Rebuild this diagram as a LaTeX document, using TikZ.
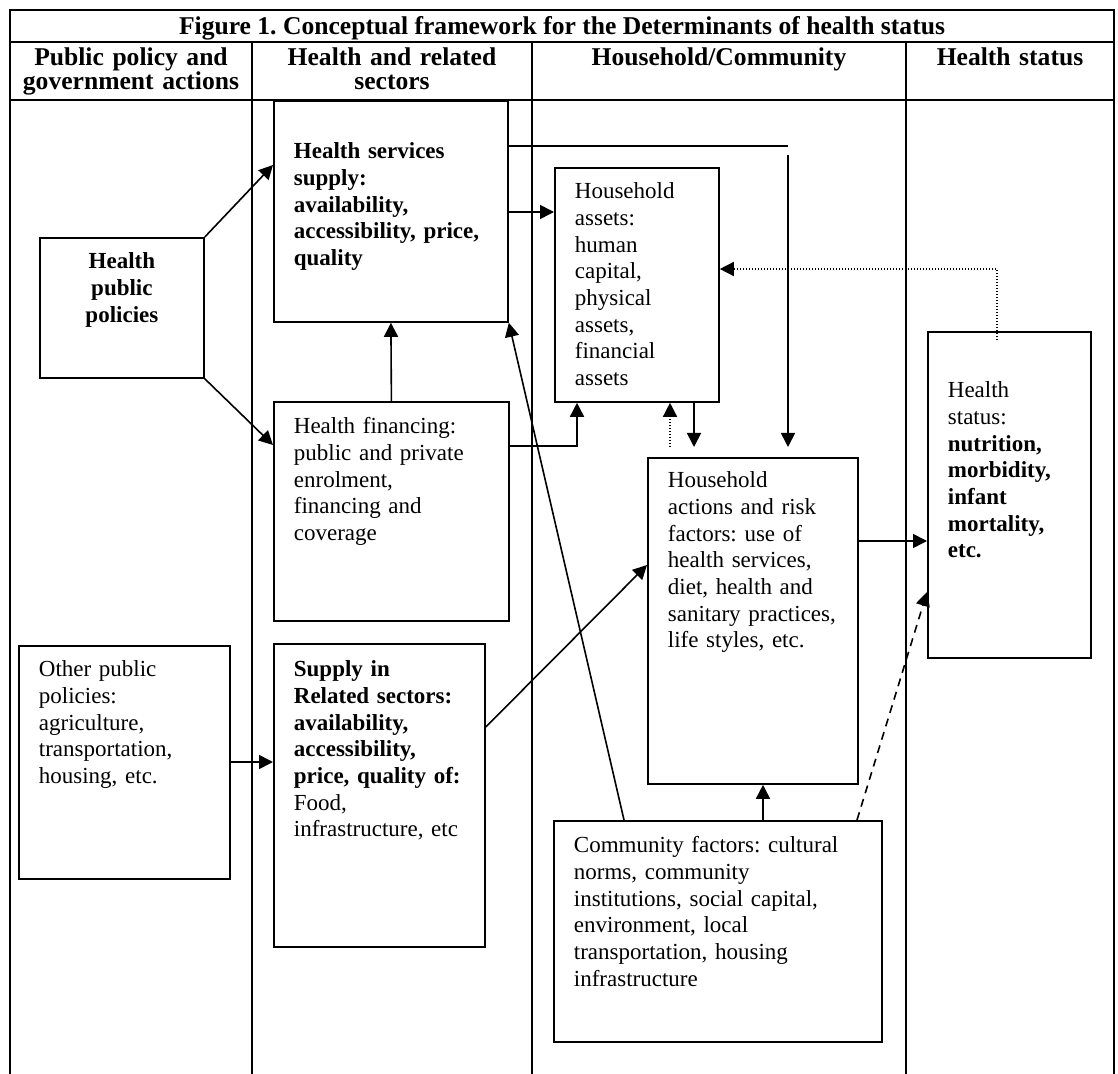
\documentclass[tikz,border=0pt]{standalone}
\usepackage{fontspec}
\setmainfont{Liberation Serif}
\usetikzlibrary{arrows.meta,calc}
\frenchspacing

\newcommand{\bodyfont}{\fontsize{11.5}{13.33}\selectfont}
\newcommand{\headfont}{\fontsize{12.8}{12}\selectfont\bfseries}
\newcommand{\titlefont}{\fontsize{12.8}{14}\selectfont\bfseries}

\begin{document}
\begin{tikzpicture}[x=0.5pt,y=-0.5pt,>={Triangle[length=7pt,width=7pt]},
    frame/.style={line width=1pt},
    cell/.style={draw,line width=0.9pt,anchor=north west,inner sep=0pt,font=\bodyfont},
    box/.style={cell,align=left,execute at begin node={\leftskip=10pt\rightskip=0pt plus 1fil\relax}},
    head/.style={anchor=base,align=center,text width=160pt,font=\headfont,inner sep=0pt},
    link/.style={->,line width=0.8pt},
    dotlink/.style={->,line width=0.7pt,dash pattern=on 0.7pt off 0.8pt},
    dashlink/.style={->,line width=0.8pt,dash pattern=on 4pt off 3pt}]
  \useasboundingbox (0,0) rectangle (1118,1074);

  % table frame
  \draw[frame] (10,1074) -- (10,10) -- (1114,10) -- (1114,1074);
  \draw[frame] (10,42) -- (1114,42);
  \draw[frame] (10,100) -- (1114,100);
  \foreach \cx in {252,532,906}
    \draw[frame] (\cx,42) -- (\cx,1074);

  \node[anchor=base,inner sep=0pt,font=\titlefont] (title) at (562,35)
    {Figure 1. Conceptual framework for the Determinants of health status};
  \node[head] (colA) at (131,66) {Public policy and\\ government actions};
  \node[head] (colB) at (392,66) {Health and related\\ sectors};
  \node[head] (colC) at (719,66) {Household/Community};
  \node[head] (colD) at (1010,66) {Health status};

  % boxes
  \node[cell,align=center,font=\bodyfont\bfseries,text width=82pt,text height=15.5pt,text depth=54.5pt]
    (hp) at (39,237) {Health\\ public\\ policies};
  \node[box,font=\bodyfont\bfseries,text width=117pt,text height=29pt,text depth=81.5pt]
    (hs) at (273,100) {Health services\\ supply:\\ availability,\\ accessibility, price,\\ quality};
  \node[box,text width=117.5pt,text height=16pt,text depth=93.5pt]
    (hf) at (273,401) {Health financing:\\ public and private\\ enrolment,\\ financing and\\ coverage};
  \node[box,text width=105.5pt,text height=15.5pt,text depth=101pt]
    (op) at (18,645) {Other public\\ policies:\\ agriculture,\\ transportation,\\ housing, etc.};
  \node[box,text width=105.5pt,text height=16.5pt,text depth=135pt]
    (srs) at (273,643) {\textbf{Supply in}\\ \textbf{Related sectors:}\\ \textbf{availability,}\\
      \textbf{accessibility,}\\ \textbf{price, quality of:}\\ Food,\\ infrastructure, etc};
  \node[box,text width=82pt,text height=15.5pt,text depth=101.5pt]
    (ha) at (554,167) {Household\\ assets:\\ human\\ capital,\\ physical\\ assets,\\ financial\\ assets};
  \node[box,text width=105pt,text height=15pt,text depth=148pt]
    (ha2) at (647,457) {Household\\ actions and risk\\ factors: use of\\ health services,\\
      diet, health and\\ sanitary practices,\\ life styles, etc.};
  \node[box,text width=164pt,text height=16pt,text depth=94.5pt]
    (cf) at (553,820) {Community factors: cultural\\ norms, community\\ institutions, social capital,\\
      environment, local\\ transportation, housing\\ infrastructure};
  \node[box,text width=81.5pt,text height=33pt,text depth=130pt]
    (hst) at (927,331) {Health\\ status:\\ \textbf{nutrition,}\\ \textbf{morbidity,}\\
      \textbf{infant}\\ \textbf{mortality,}\\ \textbf{etc.}};

  % connectors
  \coordinate (bend) at (788,146);
  \draw[link] (hp.north east) -- (hs.west |- 0,165);
  \draw[link] (hp.south east) -- (hf.west |- 0,445);
  \draw[link] (hf.north) -- (hs.south);
  \draw[link] (hs.east |- 0,212) -- (ha.west |- 0,212);
  \draw[line width=0.8pt] (hs.east |- bend) -- (bend);
  \draw[link,shorten >=5pt] ($(bend)+(0,9)$) -- (ha2.north -| bend);
  \draw[link] (hf.east |- 0,446) -| (ha.south -| 577,0);
  \draw[dotlink,shorten <=5pt] (ha2.north -| 670,0) -- (ha.south -| 670,0);
  \draw[link,shorten >=5pt] (ha.south -| 694,0) -- (ha2.north -| 694,0);
  \draw[dotlink] ($(hst.north -| 997,0)+(0,9)$) |- (ha.east |- 0,269);
  \draw[link] (ha2.east |- 0,541) -- (hst.west |- 0,541);
  \draw[dashlink] (cf.north -| 857,0) -- (hst.west |- 0,592);
  \draw[link] (cf.north -| 763,0) -- (ha2.south -| 763,0);
  \draw[link] (cf.north -| 624,0) -- (hs.south east);
  \draw[link] (srs.east |- 0,727) -- (ha2.west |- 0,565);
  \draw[link] (op.east |- 0,762) -- (srs.west |- 0,762);
\end{tikzpicture}
\end{document}
